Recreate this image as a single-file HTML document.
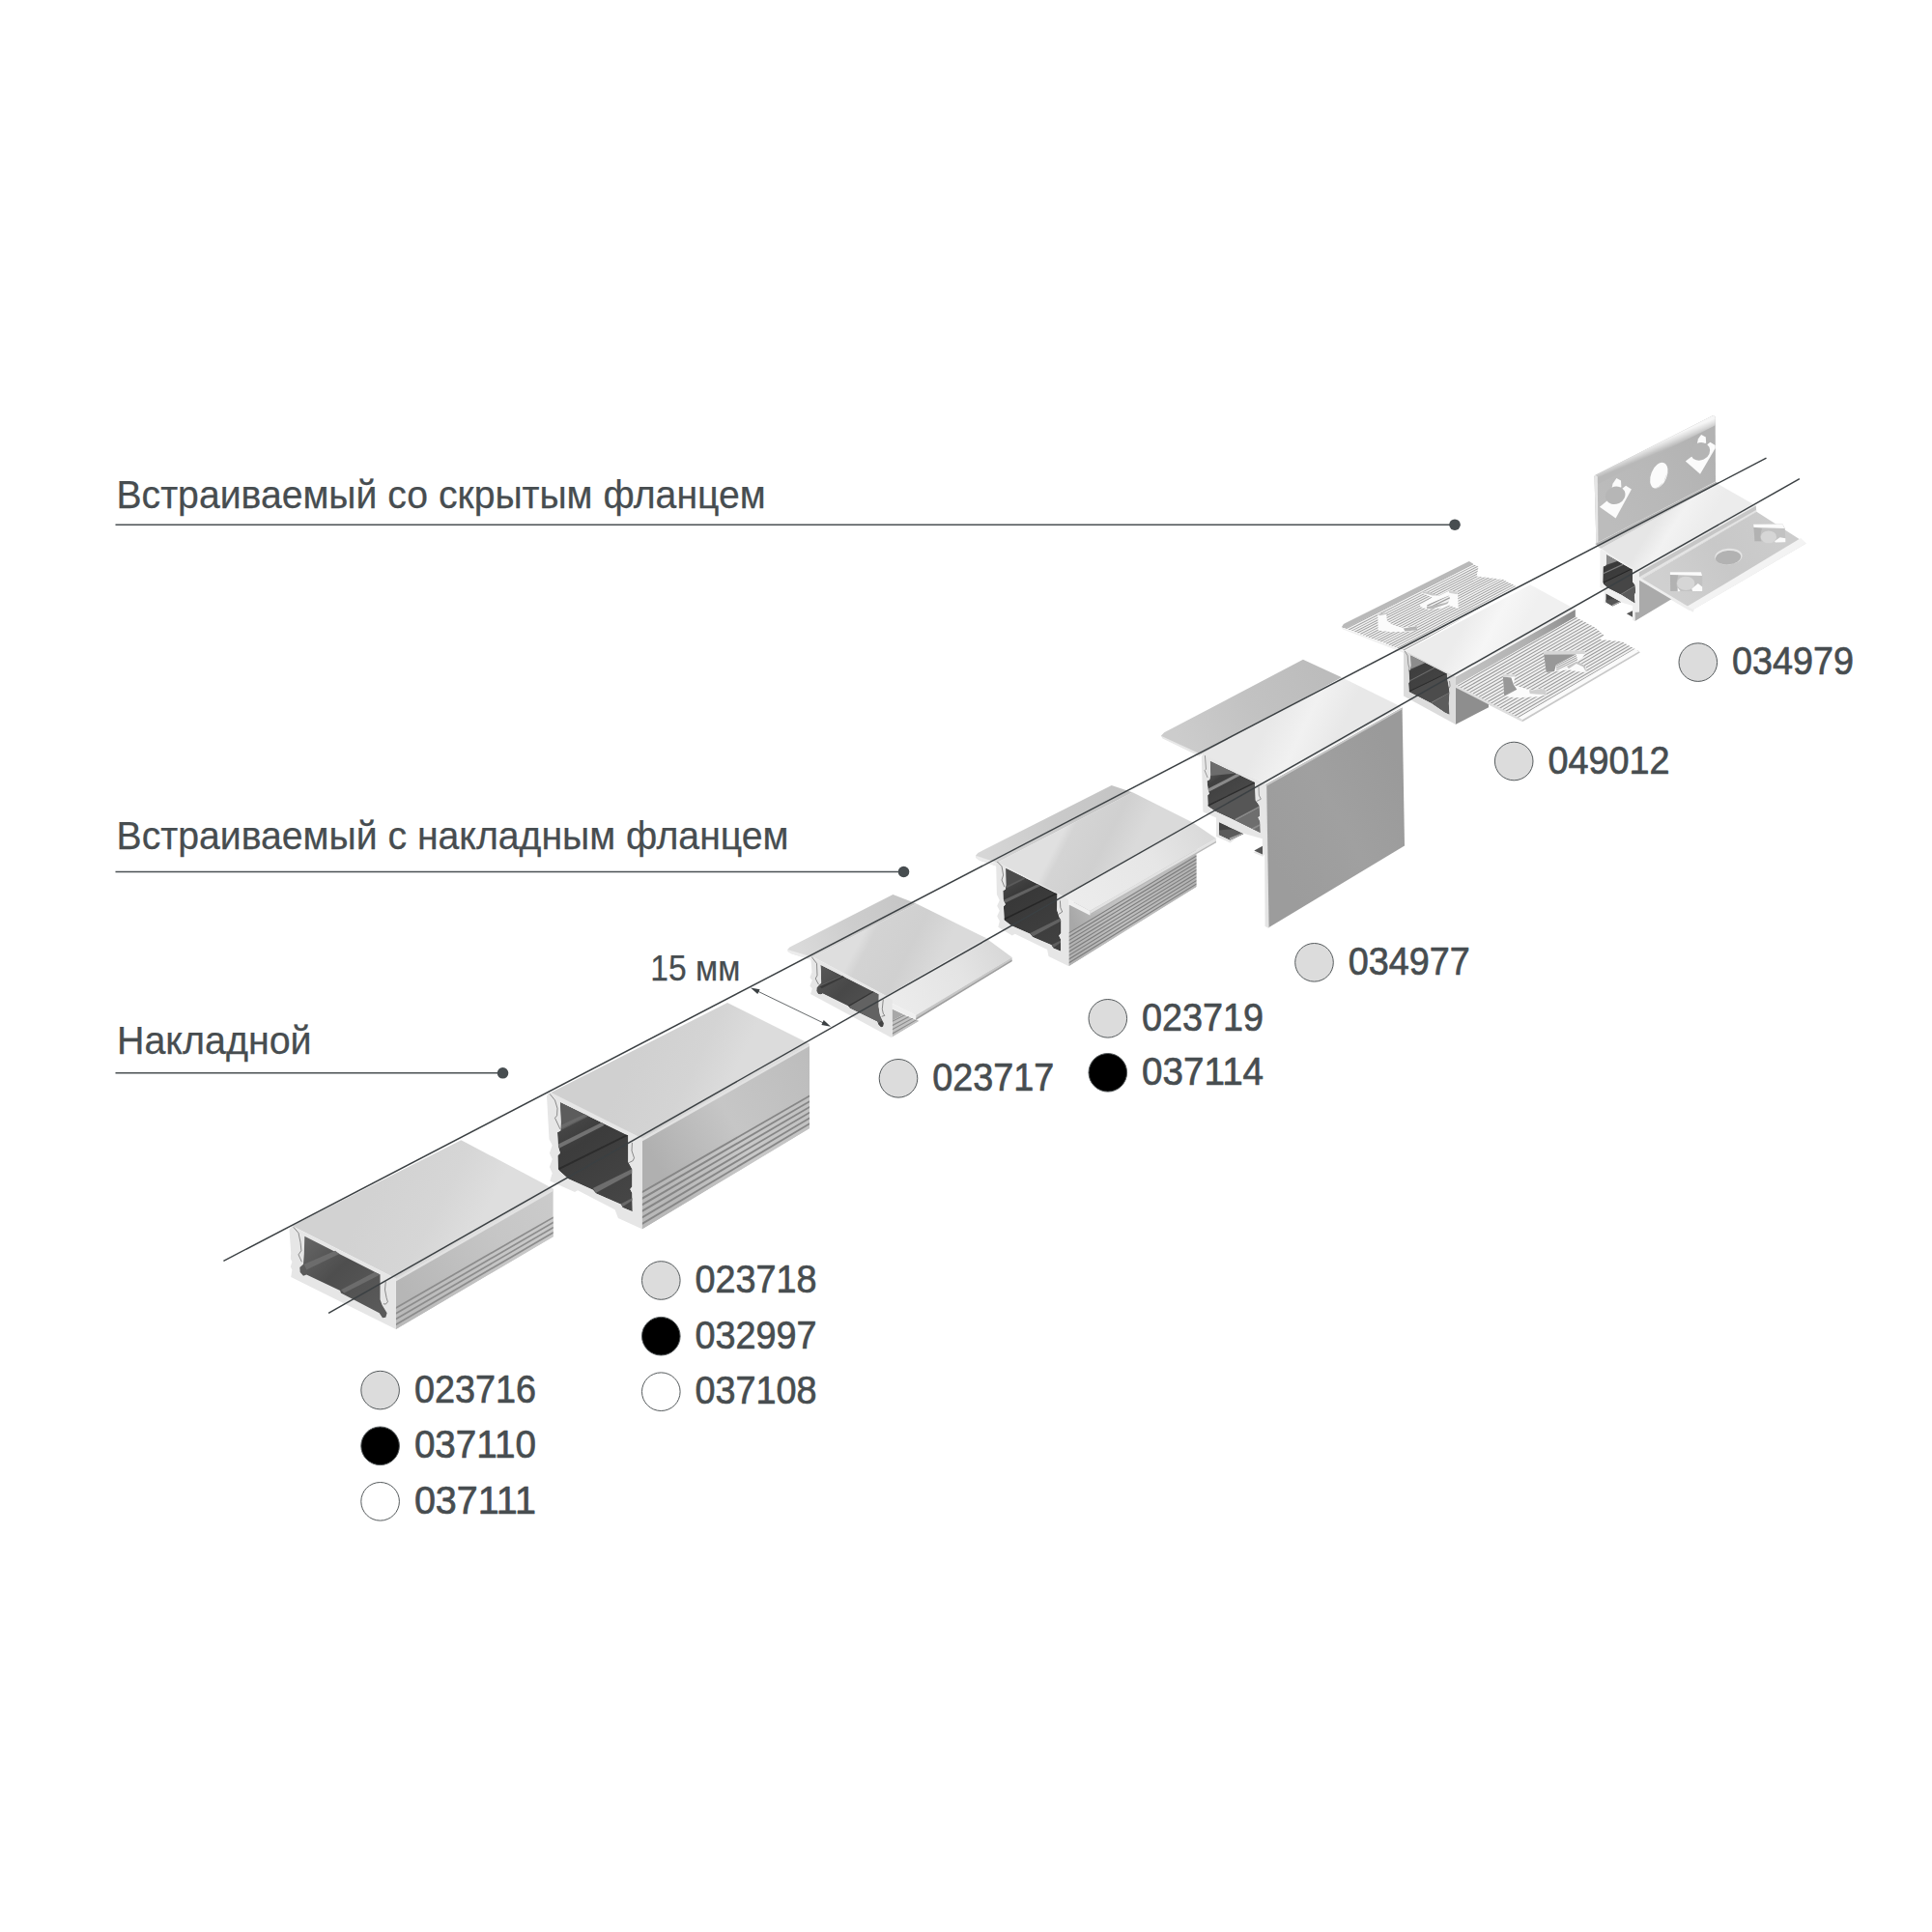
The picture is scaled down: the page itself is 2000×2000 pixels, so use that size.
<!DOCTYPE html>
<html lang="ru"><head><meta charset="utf-8"><title>Профили</title>
<style>
html,body{margin:0;padding:0;background:#fff;}
body{width:2000px;height:2000px;overflow:hidden;font-family:"Liberation Sans",sans-serif;}
svg{display:block}
svg text{font-family:"Liberation Sans",sans-serif;fill:#474d50;stroke:#474d50;stroke-width:0.25px;stroke-linejoin:round;}
</style></head><body>
<svg width="2000" height="2000" viewBox="0 0 2000 2000">
<defs>
<linearGradient id="g1" gradientUnits="userSpaceOnUse" x1="389.9" y1="1224.6" x2="491.2" y2="1276.9"><stop offset="0" stop-color="#d2d2d2"/><stop offset="0.6" stop-color="#d6d6d6"/><stop offset="1" stop-color="#dedede"/></linearGradient>
<linearGradient id="g2" gradientUnits="userSpaceOnUse" x1="409.8" y1="1323.4" x2="572.6" y2="1230.4"><stop offset="0" stop-color="#b6b6b6"/><stop offset="0.6" stop-color="#c6c6c6"/><stop offset="1" stop-color="#cbcbcb"/></linearGradient>
<linearGradient id="g3" gradientUnits="userSpaceOnUse" x1="409.8" y1="1323.4" x2="572.6" y2="1230.4"><stop offset="0" stop-color="#bababa"/><stop offset="0.6" stop-color="#c6c6c6"/><stop offset="1" stop-color="#cacaca"/></linearGradient>
<linearGradient id="g4" gradientUnits="userSpaceOnUse" x1="315.3" y1="1279.8" x2="393.5" y2="1355.9"><stop offset="0" stop-color="#666666"/><stop offset="0.45" stop-color="#4e4e4e"/><stop offset="1" stop-color="#5a5a5a"/></linearGradient>
<linearGradient id="g5" gradientUnits="userSpaceOnUse" x1="659.9" y1="1085.4" x2="751.4" y2="1129.5"><stop offset="0" stop-color="#d0d0d0"/><stop offset="0.6" stop-color="#d4d4d4"/><stop offset="1" stop-color="#dcdcdc"/></linearGradient>
<linearGradient id="g6" gradientUnits="userSpaceOnUse" x1="664.7" y1="1178.4" x2="838.0" y2="1080.5"><stop offset="0" stop-color="#b0b0b0"/><stop offset="0.45" stop-color="#c6c6c6"/><stop offset="1" stop-color="#bcbcbc"/></linearGradient>
<linearGradient id="g7" gradientUnits="userSpaceOnUse" x1="664.7" y1="1178.4" x2="838.0" y2="1080.5"><stop offset="0" stop-color="#b8b8b8"/><stop offset="0.45" stop-color="#c8c8c8"/><stop offset="1" stop-color="#bebebe"/></linearGradient>
<linearGradient id="g8" gradientUnits="userSpaceOnUse" x1="579.9" y1="1141.1" x2="654.4" y2="1252.5"><stop offset="0" stop-color="#505050"/><stop offset="0.35" stop-color="#3c3c3c"/><stop offset="1" stop-color="#474747"/></linearGradient>
<clipPath id="c1"><polygon points="579.9,1141.1 650.3,1175.5 650.3,1202.8 654.4,1210.3 654.4,1228.5 652.3,1231.0 654.4,1235.1 654.8,1254.2 644.5,1250.0 642.8,1246.7 617.1,1235.5 613.8,1231.8 588.2,1220.2 579.0,1211.9 577.8,1210.3 577.4,1196.2 579.9,1193.7 577.8,1186.3 577.0,1172.2 580.3,1170.5 580.7,1161.4"/></clipPath>
<linearGradient id="g9" gradientUnits="userSpaceOnUse" x1="827.9" y1="985.5" x2="936.9" y2="931.0"><stop offset="0" stop-color="#dadada"/><stop offset="0.5" stop-color="#cdcdcd"/><stop offset="1" stop-color="#c6c6c6"/></linearGradient>
<linearGradient id="g10" gradientUnits="userSpaceOnUse" x1="895.4" y1="963.1" x2="969.1" y2="1001.0"><stop offset="0" stop-color="#dedede"/><stop offset="0.12" stop-color="#d3d3d3"/><stop offset="0.6" stop-color="#d0d0d0"/><stop offset="1" stop-color="#dadada"/></linearGradient>
<linearGradient id="g11" gradientUnits="userSpaceOnUse" x1="925.8" y1="1041.4" x2="1037.6" y2="982.7"><stop offset="0" stop-color="#ececec"/><stop offset="0.6" stop-color="#e4e4e4"/><stop offset="1" stop-color="#d8d8d8"/></linearGradient>
<clipPath id="c2"><polygon points="923.4,1056.5 935.7,1050.2 948.1,1055.5 952.0,1056.7 923.4,1073.8"/></clipPath>
<linearGradient id="g12" gradientUnits="userSpaceOnUse" x1="849.3" y1="998.7" x2="912.2" y2="1062.6"><stop offset="0" stop-color="#585858"/><stop offset="0.4" stop-color="#484848"/><stop offset="1" stop-color="#585858"/></linearGradient>
<clipPath id="c3"><polygon points="849.3,998.7 909.6,1029.3 909.4,1041.9 910.7,1050.2 912.7,1054.9 914.8,1059.0 914.3,1062.6 912.2,1063.4 909.6,1061.1 908.1,1057.5 879.6,1043.5 878.1,1041.4 851.7,1028.5 849.6,1029.5 847.0,1029.0 845.2,1025.9 845.5,1022.3 847.5,1020.2 850.1,1017.6 849.9,1005.7"/></clipPath>
<linearGradient id="g13" gradientUnits="userSpaceOnUse" x1="1021.7" y1="888.4" x2="1160.9" y2="815.9"><stop offset="0" stop-color="#d6d6d6"/><stop offset="0.5" stop-color="#cacaca"/><stop offset="1" stop-color="#c4c4c4"/></linearGradient>
<linearGradient id="g14" gradientUnits="userSpaceOnUse" x1="1102.5" y1="856.5" x2="1168.1" y2="889.9"><stop offset="0" stop-color="#e0e0e0"/><stop offset="0.12" stop-color="#d4d4d4"/><stop offset="0.6" stop-color="#d0d0d0"/><stop offset="1" stop-color="#dadada"/></linearGradient>
<linearGradient id="g15" gradientUnits="userSpaceOnUse" x1="1106.5" y1="944.9" x2="1238.4" y2="887.0"><stop offset="0" stop-color="#a8a8a8"/><stop offset="0.25" stop-color="#c0c0c0"/><stop offset="0.6" stop-color="#c4c4c4"/><stop offset="1" stop-color="#b0b0b0"/></linearGradient>
<linearGradient id="g16" gradientUnits="userSpaceOnUse" x1="1106.5" y1="973.9" x2="1238.4" y2="901.4"><stop offset="0" stop-color="#b2b2b2"/><stop offset="0.4" stop-color="#c0c0c0"/><stop offset="1" stop-color="#b2b2b2"/></linearGradient>
<linearGradient id="g17" gradientUnits="userSpaceOnUse" x1="1115.9" y1="934.8" x2="1246.4" y2="860.9"><stop offset="0" stop-color="#ececec"/><stop offset="0.6" stop-color="#e6e6e6"/><stop offset="1" stop-color="#dadada"/></linearGradient>
<linearGradient id="g18" gradientUnits="userSpaceOnUse" x1="1041.2" y1="898.8" x2="1098.1" y2="984.8"><stop offset="0" stop-color="#505050"/><stop offset="0.3" stop-color="#383838"/><stop offset="1" stop-color="#424242"/></linearGradient>
<clipPath id="c4"><polygon points="1041.2,898.8 1094.5,925.3 1094.2,942.1 1096.2,948.6 1098.4,953.1 1098.4,966.0 1096.2,968.6 1098.1,972.5 1098.1,984.8 1090.3,981.6 1088.4,978.3 1069.0,969.9 1066.4,966.7 1047.0,958.3 1039.6,952.4 1038.9,938.2 1040.8,936.3 1038.6,931.1 1038.3,922.0 1040.8,920.8 1041.5,916.2"/></clipPath>
<linearGradient id="g19" gradientUnits="userSpaceOnUse" x1="1222.1" y1="769.5" x2="1366.5" y2="690.9"><stop offset="0" stop-color="#cccccc"/><stop offset="0.5" stop-color="#c2c2c2"/><stop offset="1" stop-color="#bcbcbc"/></linearGradient>
<linearGradient id="g20" gradientUnits="userSpaceOnUse" x1="1316.4" y1="741.0" x2="1380.2" y2="771.5"><stop offset="0" stop-color="#e8e8e8"/><stop offset="0.5" stop-color="#f1f1f1"/><stop offset="1" stop-color="#e8e8e8"/></linearGradient>
<linearGradient id="g21" gradientUnits="userSpaceOnUse" x1="1310.4" y1="878.6" x2="1453.2" y2="798.4"><stop offset="0" stop-color="#9c9c9c"/><stop offset="0.5" stop-color="#a0a0a0"/><stop offset="1" stop-color="#9a9a9a"/></linearGradient>
<linearGradient id="g22" gradientUnits="userSpaceOnUse" x1="1252.8" y1="787.8" x2="1304.7" y2="862.2"><stop offset="0" stop-color="#6e6e6e"/><stop offset="0.22" stop-color="#404040"/><stop offset="0.5" stop-color="#484848"/><stop offset="0.75" stop-color="#5c5c5c"/><stop offset="1" stop-color="#767676"/></linearGradient>
<clipPath id="c5"><polygon points="1252.8,787.8 1298.9,809.7 1299.6,828.5 1303.6,833.9 1304.0,844.7 1302.0,846.0 1304.3,850.8 1304.7,862.2 1278.7,849.4 1258.2,839.7 1250.5,834.6 1250.1,823.2 1251.8,821.8 1250.5,817.1 1249.5,808.4 1252.2,807.0 1253.2,802.3"/></clipPath>
<clipPath id="c6"><polygon points="1261.9,851.1 1287.5,863.2 1273.4,869.7 1261.9,864.2"/></clipPath>
<clipPath id="c7"><polygon points="1388.8,649.2 1392.3,644.8 1520.8,582.0 1530.5,586.7 1528.7,596.4 1556.0,599.9 1571.0,607.8 1453.9,673.8"/></clipPath>
<clipPath id="c8"><polygon points="1476.9,625.9 1500.2,616.6 1501.1,620.3 1498.3,624.0 1482.5,630.1 1476.9,629.6"/></clipPath>
<linearGradient id="g23" gradientUnits="userSpaceOnUse" x1="1519.5" y1="639.5" x2="1568.3" y2="665.7"><stop offset="0" stop-color="#ececec"/><stop offset="0.5" stop-color="#f6f6f6"/><stop offset="1" stop-color="#f0f0f0"/></linearGradient>
<linearGradient id="g24" gradientUnits="userSpaceOnUse" x1="1506.7" y1="705.5" x2="1630.8" y2="635.1"><stop offset="0" stop-color="#c4c4c4"/><stop offset="0.6" stop-color="#b0b0b0"/><stop offset="1" stop-color="#8c8c8c"/></linearGradient>
<clipPath id="c9"><polygon points="1506.7,709.9 1630.8,638.6 1651.9,650.1 1660.7,658.0 1656.3,661.9 1679.2,664.2 1696.8,674.2 1575.4,745.5"/></clipPath>
<clipPath id="c10"><polygon points="1610.8,688.4 1631.8,677.7 1633.2,683.8 1623.9,690.8 1610.8,695.0"/></clipPath>
<linearGradient id="g25" gradientUnits="userSpaceOnUse" x1="1460.1" y1="678.2" x2="1500.5" y2="739.7"><stop offset="0" stop-color="#7a7a7a"/><stop offset="0.2" stop-color="#3e3e3e"/><stop offset="0.55" stop-color="#444444"/><stop offset="1" stop-color="#626262"/></linearGradient>
<clipPath id="c11"><polygon points="1460.1,678.2 1497.7,697.3 1498.0,702.7 1499.7,711.3 1500.5,717.5 1499.7,728.3 1500.5,739.7 1495.7,737.4 1481.4,727.8 1458.7,716.1 1458.1,707.3 1459.2,705.6 1458.4,694.2 1460.1,693.0 1460.7,688.5"/></clipPath>
<linearGradient id="g26" gradientUnits="userSpaceOnUse" x1="1663.3" y1="536.5" x2="1772.0" y2="466.6"><stop offset="0" stop-color="#bcbcbc"/><stop offset="0.5" stop-color="#b8b8b8"/><stop offset="1" stop-color="#b2b2b2"/></linearGradient>
<linearGradient id="g27" gradientUnits="userSpaceOnUse" x1="1709.9" y1="460.4" x2="1713.8" y2="469.7"><stop offset="0" stop-color="#f6f6f6"/><stop offset="0.45" stop-color="#dcdcdc"/><stop offset="1" stop-color="#b8b8b8"/></linearGradient>
<linearGradient id="g28" gradientUnits="userSpaceOnUse" x1="1717.5" y1="534.1" x2="1756.2" y2="558.6"><stop offset="0" stop-color="#e6e6e6"/><stop offset="0.4" stop-color="#f2f2f2"/><stop offset="1" stop-color="#ececec"/></linearGradient>
<linearGradient id="g29" gradientUnits="userSpaceOnUse" x1="1728.0" y1="613.2" x2="1839.8" y2="548.0"><stop offset="0" stop-color="#d0d0d0"/><stop offset="0.5" stop-color="#c8c8c8"/><stop offset="1" stop-color="#cccccc"/></linearGradient>
<linearGradient id="g30" gradientUnits="userSpaceOnUse" x1="1662.9" y1="573.9" x2="1692.6" y2="624.4"><stop offset="0" stop-color="#7c7c7c"/><stop offset="0.2" stop-color="#383838"/><stop offset="0.55" stop-color="#404040"/><stop offset="1" stop-color="#5c5c5c"/></linearGradient>
<clipPath id="c12"><polygon points="1662.9,573.9 1689.8,589.4 1690.0,602.6 1692.6,605.7 1693.1,613.0 1691.8,616.1 1692.6,624.4 1678.1,615.6 1664.7,608.8 1660.0,604.7 1659.2,603.1 1659.5,586.6 1662.1,585.5 1662.9,584.0"/></clipPath>
<clipPath id="c13"><polygon points="1662.3,614.3 1678.1,623.3 1669.3,627.6 1662.3,623.4"/></clipPath>
</defs>
<rect width="2000" height="2000" fill="#fff"/>
<g id="profiles">
<polygon points="302.4,1269.0 477.4,1180.2 572.6,1230.4 409.8,1323.4" fill="url(#g1)" />
<polygon points="409.8,1323.4 572.6,1230.4 572.6,1280.2 409.8,1376.0" fill="url(#g2)" />
<polygon points="409.8,1323.4 572.6,1230.4 572.6,1233.0 409.8,1326.6" fill="#e2e2e2" />
<polygon points="409.8,1352.9 572.6,1259.4 572.6,1280.2 409.8,1376.0" fill="url(#g3)" />
<polygon points="409.8,1352.9 572.6,1259.4 572.6,1261.3 409.8,1355.0" fill="#8c8c8c" />
<polygon points="409.8,1358.7 572.6,1264.6 572.6,1266.5 409.8,1360.8" fill="#8c8c8c" />
<polygon points="409.8,1364.5 572.6,1269.8 572.6,1271.7 409.8,1366.5" fill="#8c8c8c" />
<polygon points="409.8,1370.2 572.6,1275.0 572.6,1276.9 409.8,1372.3" fill="#8c8c8c" />
<polygon points="299.5,1272.7 302.4,1269.2 409.8,1323.4 409.8,1376.0 301.2,1322.0 302.4,1314.5 300.8,1311.2 302.4,1306.3 300.8,1302.9 301.2,1297.1" fill="#e6e6e6" />
<polygon points="315.3,1279.8 393.5,1319.5 393.5,1345.2 395.6,1351.0 400.6,1359.3 399.3,1363.8 396.0,1364.2 392.7,1359.3 352.9,1338.6 352.1,1336.1 317.3,1319.5 314.0,1320.7 310.7,1317.0 310.3,1312.0 314.0,1308.7 314.8,1298.0" fill="url(#g4)" />
<polygon points="314.8,1308.7 347.1,1294.7 351.3,1298.0 317.3,1314.5" fill="#6c6c6c" />
<polygon points="352.9,1335.2 387.7,1317.0 393.5,1319.5 356.3,1338.6" fill="#6c6c6c" />
<path d="M303.7,1270.2 L309.0,1276.4 L311.1,1286.4 L311.9,1294.7 L309.0,1298.8 L312.4,1306.3" fill="none" stroke="#4a4a4a" stroke-width="0.6" stroke-linejoin="round"/>
<path d="M399.3,1326.5 L398.5,1335.2 L400.1,1343.5 L401.4,1347.7 L399.3,1350.1 L396.8,1349.7" fill="none" stroke="#4a4a4a" stroke-width="0.6" stroke-linejoin="round"/>
<polygon points="566.8,1132.7 753.0,1038.0 838.0,1080.5 664.7,1178.4" fill="url(#g5)" />
<polygon points="664.7,1178.4 838.0,1080.5 838.0,1168.0 664.7,1272.3" fill="url(#g6)" />
<polygon points="664.7,1178.4 838.0,1080.5 838.0,1083.1 664.7,1181.6" fill="#e2e2e2" />
<polygon points="664.7,1233.0 838.0,1133.5 838.0,1168.0 664.7,1272.3" fill="url(#g7)" />
<polygon points="664.7,1233.0 838.0,1133.5 838.0,1135.6 664.7,1235.3" fill="#868686" />
<polygon points="664.7,1239.5 838.0,1139.2 838.0,1141.3 664.7,1241.9" fill="#868686" />
<polygon points="664.7,1246.1 838.0,1145.0 838.0,1147.1 664.7,1248.4" fill="#868686" />
<polygon points="664.7,1252.6 838.0,1150.7 838.0,1152.8 664.7,1255.0" fill="#868686" />
<polygon points="664.7,1259.2 838.0,1156.5 838.0,1158.6 664.7,1261.6" fill="#868686" />
<polygon points="664.7,1265.7 838.0,1162.2 838.0,1164.3 664.7,1268.1" fill="#868686" />
<polygon points="566.0,1134.3 570.1,1130.8 664.7,1178.4 664.7,1272.3 639.9,1261.1 636.6,1252.2 598.1,1232.2 594.9,1234.1 569.3,1222.6 571.7,1214.5 568.9,1208.1 571.7,1200.1 568.9,1193.7 571.7,1185.6 568.5,1179.2" fill="#e6e6e6" />
<g clip-path="url(#c1)">
<polygon points="579.9,1141.1 650.3,1175.5 650.3,1202.8 654.4,1210.3 654.4,1228.5 652.3,1231.0 654.4,1235.1 654.8,1254.2 644.5,1250.0 642.8,1246.7 617.1,1235.5 613.8,1231.8 588.2,1220.2 579.0,1211.9 577.8,1210.3 577.4,1196.2 579.9,1193.7 577.8,1186.3 577.0,1172.2 580.3,1170.5 580.7,1161.4" fill="url(#g8)" />
<polygon points="579.9,1141.1 609.7,1155.6 581.5,1169.7" fill="#5c5c5c" />
<polygon points="580.7,1164.7 606.4,1152.7 608.0,1155.2 581.1,1168.4" fill="#6a6a6a" />
<polygon points="577.8,1184.6 623.8,1161.4 625.4,1165.1 578.6,1188.7" fill="#727272" />
<polygon points="578.6,1209.0 650.3,1173.4 650.3,1175.5 579.0,1211.1" fill="#2c2c2c" />
<polygon points="613.8,1230.1 654.4,1209.9 654.4,1214.4 617.1,1234.7" fill="#6e6e6e" />
<polygon points="642.8,1246.3 654.8,1240.1 654.8,1242.6 644.5,1249.2" fill="#6a6a6a" />
</g>
<path d="M569.1,1132.4 L574.5,1139.0 L577.0,1147.3 L576.6,1154.8 L574.5,1157.3 L579.9,1168.9" fill="none" stroke="#4a4a4a" stroke-width="0.6" stroke-linejoin="round"/>
<path d="M654.4,1182.9 L654.0,1191.2 L656.5,1198.7 L655.2,1201.6 L651.1,1203.6" fill="none" stroke="#4a4a4a" stroke-width="0.6" stroke-linejoin="round"/>
<polygon points="815.4,982.7 817.5,980.6 924.4,926.1 948.8,935.4 841.9,990.8 840.5,993.8 818.9,987.1 815.7,984.8" fill="url(#g9)" />
<polygon points="815.4,982.9 841.9,991.1 841.6,994.3 818.9,987.3 815.7,985.2" fill="#ececec" />
<polygon points="841.9,990.8 948.8,935.4 1020.8,971.1 917.4,1030.9" fill="url(#g10)" />
<polygon points="917.4,1031.0 1020.8,971.2 1047.6,991.1 948.1,1051.0 923.4,1038.7" fill="url(#g11)" />
<polygon points="948.1,1051.0 1047.6,991.1 1047.6,994.7 948.1,1055.5" fill="#c6c6c6" />
<polygon points="948.1,1054.1 1047.6,993.6 1047.6,995.2 948.1,1055.9" fill="#9e9e9e" />
<g clip-path="url(#c2)">
<polygon points="923.4,1056.5 935.7,1050.2 948.1,1055.5 952.0,1056.7 923.4,1073.8" fill="#c2c2c2" />
<polygon points="923.4,1056.7 952.0,1042.5 952.0,1043.6 923.4,1058.1" fill="#8c8c8c" />
<polygon points="923.4,1061.0 952.0,1046.0 952.0,1047.2 923.4,1062.4" fill="#8c8c8c" />
<polygon points="923.4,1065.3 952.0,1049.6 952.0,1050.7 923.4,1066.6" fill="#8c8c8c" />
<polygon points="923.4,1069.5 952.0,1053.2 952.0,1054.3 923.4,1070.9" fill="#8c8c8c" />
</g>
<polygon points="923.4,1044.4 935.7,1050.3 923.4,1056.7" fill="#a8a8a8" />
<polygon points="923.4,1038.7 948.1,1051.0 948.1,1055.5 923.4,1044.2" fill="#efefef" />
<polygon points="839.5,993.4 841.9,990.8 917.4,1030.9 923.7,1034.8 923.7,1073.8 921.9,1073.8 839.1,1029.1 840.8,1023.2 838.4,1020.4 840.8,1014.8 838.4,1012.0 840.5,1006.4" fill="#e6e6e6" />
<g clip-path="url(#c3)">
<polygon points="849.3,998.7 909.6,1029.3 909.4,1041.9 910.7,1050.2 912.7,1054.9 914.8,1059.0 914.3,1062.6 912.2,1063.4 909.6,1061.1 908.1,1057.5 879.6,1043.5 878.1,1041.4 851.7,1028.5 849.6,1029.5 847.0,1029.0 845.2,1025.9 845.5,1022.3 847.5,1020.2 850.1,1017.6 849.9,1005.7" fill="url(#g12)" />
<polygon points="847.5,1020.2 872.4,1009.3 875.0,1010.9 850.6,1023.3" fill="#3a3a3a" />
<polygon points="847.5,1020.2 872.4,1009.3 873.4,1009.9 848.6,1021.2" fill="#5e5e5e" />
<polygon points="878.6,1041.9 904.5,1026.4 909.6,1029.3 909.4,1041.9 910.7,1050.2 914.8,1059.0 914.3,1062.6 909.6,1061.1 908.1,1057.5 879.6,1043.5" fill="#626262" />
<polygon points="878.1,1040.9 903.9,1025.9 905.0,1026.7 878.8,1041.9" fill="#343434" />
<polygon points="909.1,1059.5 912.7,1056.4 914.8,1059.5 914.0,1062.6 912.0,1063.3" fill="#444444" />
</g>
<path d="M840.3,990.7 L845.5,997.4 L846.0,1009.8 L844.2,1013.0 L847.5,1019.2" fill="none" stroke="#4a4a4a" stroke-width="0.6" stroke-linejoin="round"/>
<path d="M914.3,1034.7 L913.3,1044.5 L914.3,1049.2 L915.9,1051.3 L912.7,1052.3" fill="none" stroke="#4a4a4a" stroke-width="0.6" stroke-linejoin="round"/>
<polygon points="1010.1,885.5 1012.3,882.9 1150.7,813.0 1172.5,820.3 1032.6,892.8 1032.2,896.8 1013.8,890.6 1010.4,888.1" fill="url(#g13)" />
<polygon points="1010.1,885.8 1032.6,893.0 1032.2,896.8 1013.8,890.6 1010.4,888.1" fill="#ececec" />
<polygon points="1032.6,892.8 1172.5,820.3 1234.8,851.4 1101.4,928.3" fill="url(#g14)" />
<polygon points="1106.5,937.0 1238.4,860.9 1238.4,918.1 1106.5,1000.0" fill="url(#g15)" />
<polygon points="1106.5,965.2 1238.4,885.5 1238.4,918.1 1106.5,1000.0" fill="url(#g16)" />
<polygon points="1106.5,965.2 1238.4,885.5 1238.4,886.8 1106.5,966.6" fill="#7e7e7e" />
<polygon points="1106.5,969.1 1238.4,889.1 1238.4,890.4 1106.5,970.5" fill="#7e7e7e" />
<polygon points="1106.5,972.9 1238.4,892.8 1238.4,894.1 1106.5,974.3" fill="#7e7e7e" />
<polygon points="1106.5,976.8 1238.4,896.4 1238.4,897.7 1106.5,978.2" fill="#7e7e7e" />
<polygon points="1106.5,980.7 1238.4,900.0 1238.4,901.3 1106.5,982.1" fill="#7e7e7e" />
<polygon points="1106.5,984.5 1238.4,903.6 1238.4,904.9 1106.5,985.9" fill="#7e7e7e" />
<polygon points="1106.5,988.4 1238.4,907.2 1238.4,908.6 1106.5,989.8" fill="#7e7e7e" />
<polygon points="1106.5,992.3 1238.4,910.9 1238.4,912.2 1106.5,993.7" fill="#7e7e7e" />
<polygon points="1106.5,996.1 1238.4,914.5 1238.4,915.8 1106.5,997.5" fill="#7e7e7e" />
<polygon points="1101.4,928.4 1234.8,851.6 1259.0,868.1 1128.3,943.0" fill="url(#g17)" />
<polygon points="1128.3,943.0 1259.0,868.1 1259.0,872.0 1128.3,947.4" fill="#e2e2e2" />
<polygon points="1128.3,946.1 1259.0,870.7 1259.0,872.3 1128.3,947.7" fill="#b8b8b8" />
<polygon points="1106.5,931.2 1128.3,943.0 1128.3,947.4 1106.5,936.5" fill="#f0f0f0" />
<polygon points="1031.2,894.9 1032.6,892.8 1101.4,928.3 1106.5,931.2 1106.5,1000.3 1085.5,989.9 1084.1,982.9 1050.7,966.7 1047.8,968.4 1033.3,959.7 1034.8,953.6 1032.2,948.6 1034.8,942.8 1032.2,937.7 1034.8,931.9 1031.9,926.1" fill="#e6e6e6" />
<g clip-path="url(#c4)">
<polygon points="1041.2,898.8 1094.5,925.3 1094.2,942.1 1096.2,948.6 1098.4,953.1 1098.4,966.0 1096.2,968.6 1098.1,972.5 1098.1,984.8 1090.3,981.6 1088.4,978.3 1069.0,969.9 1066.4,966.7 1047.0,958.3 1039.6,952.4 1038.9,938.2 1040.8,936.3 1038.6,931.1 1038.3,922.0 1040.8,920.8 1041.5,916.2" fill="url(#g18)" />
<polygon points="1041.2,898.8 1061.2,908.8 1041.7,918.8" fill="#4c4c4c" />
<polygon points="1041.0,917.8 1059.9,908.5 1061.2,909.8 1041.3,919.8" fill="#5a5a5a" />
<polygon points="1038.9,931.7 1074.8,914.9 1076.7,917.2 1039.6,935.3" fill="#626262" />
<polygon points="1039.4,950.8 1094.5,923.7 1094.6,925.3 1039.6,952.6" fill="#262626" />
<polygon points="1066.4,966.0 1098.4,949.9 1098.4,953.4 1069.0,969.6" fill="#626262" />
<polygon points="1088.7,978.0 1098.1,973.5 1098.1,975.7 1090.3,981.2" fill="#5e5e5e" />
</g>
<path d="M1032.4,892.0 L1037.0,896.8 L1038.6,905.9 L1037.0,911.0 L1039.9,918.2" fill="none" stroke="#4a4a4a" stroke-width="0.6" stroke-linejoin="round"/>
<path d="M1097.4,932.4 L1097.8,939.5 L1099.7,944.0 L1095.5,946.6" fill="none" stroke="#4a4a4a" stroke-width="0.6" stroke-linejoin="round"/>
<polygon points="1202.0,761.5 1205.2,758.3 1348.9,682.8 1389.0,701.3 1243.8,780.7 1241.4,782.3 1203.6,763.9" fill="url(#g19)" />
<polygon points="1202.0,761.8 1243.8,781.1 1241.7,783.0 1203.6,764.4" fill="#e8e8e8" />
<polygon points="1243.8,780.7 1389.0,701.3 1450.8,731.8 1309.6,811.2" fill="url(#g20)" />
<polygon points="1310.4,812.0 1451.6,732.6 1454.0,875.4 1312.8,960.5" fill="url(#g21)" />
<polygon points="1308.8,811.6 1311.2,812.2 1313.6,960.8 1309.6,958.9" fill="#e4e4e4" />
<polygon points="1310.4,812.0 1451.6,732.6 1451.6,734.2 1310.7,814.1" fill="#c8c8c8" />
<polygon points="1243.8,783.1 1245.4,780.7 1309.6,811.2 1309.6,883.4 1307.2,886.7 1297.5,882.6 1306.8,877.4 1306.8,868.2 1286.3,862.6 1273.5,872.5 1261.4,867.1 1259.0,866.1 1259.0,846.5 1245.4,840.4" fill="#e6e6e6" />
<g clip-path="url(#c5)">
<polygon points="1252.8,787.8 1298.9,809.7 1299.6,828.5 1303.6,833.9 1304.0,844.7 1302.0,846.0 1304.3,850.8 1304.7,862.2 1278.7,849.4 1258.2,839.7 1250.5,834.6 1250.1,823.2 1251.8,821.8 1250.5,817.1 1249.5,808.4 1252.2,807.0 1253.2,802.3" fill="url(#g22)" />
<polygon points="1252.8,787.8 1279.4,800.6 1253.8,803.0" fill="#6c6c6c" />
<polygon points="1250.5,816.4 1281.4,800.6 1284.8,802.3 1250.8,820.1" fill="#8a8a8a" />
<polygon points="1250.3,833.3 1298.9,809.4 1299.1,811.0 1250.6,834.9" fill="#2e2e2e" />
<polygon points="1250.6,834.9 1299.1,811.0 1299.6,828.5 1303.6,833.9 1278.1,848.7 1258.2,839.7" fill="#565656" />
<polygon points="1278.1,848.1 1303.6,834.6 1303.8,836.3 1279.4,849.4" fill="#8a8a8a" />
<polygon points="1279.4,849.4 1303.8,836.3 1304.3,850.8 1304.7,862.2" fill="#6e6e6e" />
<polygon points="1295.6,857.5 1304.3,853.1 1304.4,854.8 1297.6,858.5" fill="#8c8c8c" />
</g>
<g clip-path="url(#c6)">
<polygon points="1261.9,851.1 1287.5,863.2 1273.4,869.7 1261.9,864.2" fill="#424242" />
<polygon points="1261.9,859.5 1276.7,858.2 1287.5,863.2 1273.4,869.7 1261.9,864.2" fill="#5a5a5a" />
<polygon points="1272.7,867.6 1286.1,862.2 1287.6,863.2 1273.4,869.9" fill="#a0a0a0" />
</g>
<polygon points="1298.3,880.4 1307.0,875.7 1307.0,884.4" fill="#565656" />
<path d="M1247.4,782.1 L1248.5,796.2 L1247.1,797.6 L1250.1,805.0" fill="none" stroke="#4a4a4a" stroke-width="0.5" stroke-linejoin="round"/>
<path d="M1303.0,814.4 L1303.3,823.2 L1305.3,827.2 L1300.6,829.6" fill="none" stroke="#4a4a4a" stroke-width="0.5" stroke-linejoin="round"/>
<g clip-path="url(#c7)">
<polygon points="1388.8,649.2 1392.3,644.8 1520.8,582.0 1530.5,586.7 1528.7,596.4 1556.0,599.9 1571.0,607.8 1453.9,673.8" fill="#f2f2f2" />
<polygon points="1389.7,649.5 1535.6,575.3 1536.5,575.8 1390.8,650.0" fill="#9c9c9c" />
<polygon points="1392.7,650.7 1538.0,576.6 1538.9,577.1 1393.8,651.1" fill="#9c9c9c" />
<polygon points="1395.6,651.8 1540.4,577.9 1541.3,578.3 1396.8,652.2" fill="#9c9c9c" />
<polygon points="1398.6,652.9 1542.8,579.1 1543.7,579.6 1399.7,653.3" fill="#9c9c9c" />
<polygon points="1401.6,654.0 1545.2,580.4 1546.1,580.9 1402.7,654.5" fill="#9c9c9c" />
<polygon points="1404.5,655.1 1547.6,581.7 1548.5,582.2 1405.6,655.6" fill="#9c9c9c" />
<polygon points="1407.5,656.3 1550.0,583.0 1550.9,583.4 1408.6,656.7" fill="#9c9c9c" />
<polygon points="1410.4,657.4 1552.4,584.2 1553.3,584.7 1411.6,657.8" fill="#9c9c9c" />
<polygon points="1413.4,658.5 1554.8,585.5 1555.7,586.0 1414.5,658.9" fill="#9c9c9c" />
<polygon points="1416.4,659.6 1557.2,586.8 1558.1,587.3 1417.5,660.0" fill="#9c9c9c" />
<polygon points="1419.3,660.7 1559.6,588.0 1560.5,588.5 1420.4,661.2" fill="#9c9c9c" />
<polygon points="1422.3,661.9 1562.0,589.3 1562.9,589.8 1423.4,662.3" fill="#9c9c9c" />
<polygon points="1425.2,663.0 1564.4,590.6 1565.3,591.1 1426.4,663.4" fill="#9c9c9c" />
<polygon points="1428.2,664.1 1566.8,591.9 1567.7,592.3 1429.3,664.5" fill="#9c9c9c" />
<polygon points="1431.2,665.2 1569.2,593.1 1570.1,593.6 1432.3,665.6" fill="#9c9c9c" />
<polygon points="1434.1,666.3 1571.6,594.4 1572.5,594.9 1435.2,666.8" fill="#9c9c9c" />
<polygon points="1437.1,667.5 1574.0,595.7 1574.9,596.2 1438.2,667.9" fill="#9c9c9c" />
<polygon points="1440.0,668.6 1576.4,596.9 1577.3,597.4 1441.2,669.0" fill="#9c9c9c" />
<polygon points="1443.0,669.7 1578.8,598.2 1579.7,598.7 1444.1,670.1" fill="#9c9c9c" />
<polygon points="1446.0,670.8 1581.2,599.5 1582.1,600.0 1447.1,671.2" fill="#9c9c9c" />
<polygon points="1448.9,671.9 1583.6,600.8 1584.5,601.2 1450.0,672.4" fill="#9c9c9c" />
<polygon points="1451.9,673.1 1586.0,602.0 1586.9,602.5 1453.0,673.5" fill="#9c9c9c" />
</g>
<polygon points="1388.8,649.2 1390.9,646.0 1520.8,580.9 1525.2,583.7 1393.2,650.6" fill="#b9b9b9" />
<polygon points="1388.8,649.5 1453.9,674.2 1453.9,676.3 1389.7,651.3" fill="#efefef" />
<polygon points="1426.3,635.7 1435.0,634.3 1435.9,642.7 1440.6,645.9 1450.8,649.7 1466.6,647.8 1467.1,652.0 1459.2,653.7 1439.6,654.3 1426.6,652.5" fill="#fbfbfb" />
<polygon points="1426.3,635.7 1435.0,634.3 1437.3,635.2 1428.4,637.3" fill="#c4c4c4" />
<polygon points="1452.7,650.6 1466.6,648.1 1467.1,652.2 1454.5,653.6" fill="#b4b4b4" />
<polygon points="1470.8,613.0 1477.4,612.4 1489.0,617.1 1500.2,611.5 1509.0,612.4 1509.7,630.1 1500.2,626.4 1492.7,629.6 1478.8,631.0 1470.8,628.2 1469.9,625.9 1473.2,624.5 1476.9,622.2 1482.5,618.4" fill="#fbfbfb" />
<polygon points="1470.8,613.0 1477.4,612.4 1489.0,616.4 1482.5,616.6" fill="#c8c8c8" />
<polygon points="1499.7,611.5 1509.0,612.4 1508.6,615.2 1500.2,613.8" fill="#d2d2d2" />
<g clip-path="url(#c8)">
<polygon points="1476.9,625.9 1500.2,616.6 1501.1,620.3 1498.3,624.0 1482.5,630.1 1476.9,629.6" fill="#f2f2f2" />
<polygon points="1477.2,626.6 1500.5,615.3 1500.9,616.4 1477.6,627.7" fill="#9c9c9c" />
<polygon points="1478.1,629.2 1501.4,617.8 1501.8,618.9 1478.5,630.3" fill="#9c9c9c" />
</g>
<polygon points="1476.9,628.2 1496.5,624.0 1500.2,622.2 1498.3,625.0 1482.5,630.4 1476.9,630.1" fill="#b8b8b8" />
<polygon points="1454.8,673.8 1584.2,605.2 1630.8,630.7 1505.8,700.6" fill="url(#g23)" />
<polygon points="1506.4,701.1 1630.8,631.1 1630.8,639.0 1506.7,710.3" fill="url(#g24)" />
<g clip-path="url(#c9)">
<polygon points="1506.7,709.9 1630.8,638.6 1651.9,650.1 1660.7,658.0 1656.3,661.9 1679.2,664.2 1696.8,674.2 1575.4,745.5" fill="#f2f2f2" />
<polygon points="1507.7,710.4 1655.4,625.6 1656.4,626.3 1508.9,711.0" fill="#9c9c9c" />
<polygon points="1510.8,712.0 1658.1,627.4 1659.1,628.1 1512.0,712.6" fill="#9c9c9c" />
<polygon points="1513.9,713.6 1660.8,629.2 1661.9,629.8 1515.1,714.3" fill="#9c9c9c" />
<polygon points="1517.0,715.3 1663.6,630.9 1664.6,631.6 1518.2,715.9" fill="#9c9c9c" />
<polygon points="1520.2,716.9 1666.3,632.7 1667.3,633.3 1521.3,717.5" fill="#9c9c9c" />
<polygon points="1523.3,718.5 1669.0,634.4 1670.0,635.1 1524.5,719.1" fill="#9c9c9c" />
<polygon points="1526.4,720.1 1671.7,636.2 1672.7,636.9 1527.6,720.7" fill="#9c9c9c" />
<polygon points="1529.5,721.7 1674.4,638.0 1675.5,638.6 1530.7,722.3" fill="#9c9c9c" />
<polygon points="1532.6,723.3 1677.2,639.7 1678.2,640.4 1533.8,724.0" fill="#9c9c9c" />
<polygon points="1535.8,725.0 1679.9,641.5 1680.9,642.1 1536.9,725.6" fill="#9c9c9c" />
<polygon points="1538.9,726.6 1682.6,643.2 1683.6,643.9 1540.1,727.2" fill="#9c9c9c" />
<polygon points="1542.0,728.2 1685.3,645.0 1686.3,645.7 1543.2,728.8" fill="#9c9c9c" />
<polygon points="1545.1,729.8 1688.0,646.8 1689.1,647.4 1546.3,730.4" fill="#9c9c9c" />
<polygon points="1548.2,731.4 1690.8,648.5 1691.8,649.2 1549.4,732.0" fill="#9c9c9c" />
<polygon points="1551.4,733.0 1693.5,650.3 1694.5,650.9 1552.5,733.7" fill="#9c9c9c" />
<polygon points="1554.5,734.7 1696.2,652.0 1697.2,652.7 1555.7,735.3" fill="#9c9c9c" />
<polygon points="1557.6,736.3 1698.9,653.8 1699.9,654.5 1558.8,736.9" fill="#9c9c9c" />
<polygon points="1560.7,737.9 1701.6,655.6 1702.7,656.2 1561.9,738.5" fill="#9c9c9c" />
<polygon points="1563.8,739.5 1704.4,657.3 1705.4,658.0 1565.0,740.1" fill="#9c9c9c" />
<polygon points="1567.0,741.1 1707.1,659.1 1708.1,659.7 1568.1,741.7" fill="#9c9c9c" />
<polygon points="1570.1,742.7 1709.8,660.8 1710.8,661.5 1571.3,743.3" fill="#9c9c9c" />
<polygon points="1573.2,744.4 1712.5,662.6 1713.5,663.3 1574.4,745.0" fill="#9c9c9c" />
</g>
<polygon points="1571.0,743.4 1692.4,671.7 1696.8,674.2 1575.4,745.5" fill="#fafafa" />
<polygon points="1575.4,745.5 1696.8,674.2 1697.8,675.6 1576.4,747.1" fill="#c8c8c8" />
<polygon points="1506.7,708.9 1575.4,744.4 1576.4,747.4 1506.7,712.2" fill="#dedede" />
<polygon points="1555.8,698.2 1568.4,698.2 1567.0,708.9 1577.3,712.2 1583.8,714.5 1595.9,712.7 1600.6,714.5 1600.6,719.2 1592.2,721.2 1570.7,722.2 1557.2,720.9" fill="#fbfbfb" />
<polygon points="1555.8,700.6 1564.4,701.5 1567.0,708.9 1570.3,713.8 1557.2,720.7" fill="#989898" />
<polygon points="1555.8,698.2 1568.4,698.2 1568.4,700.6 1555.8,700.7" fill="#d6d6d6" />
<polygon points="1583.0,715.0 1595.9,712.9 1600.6,714.7 1600.4,719.0 1592.2,718.8 1583.8,717.9" fill="#cfcfcf" />
<polygon points="1598.2,674.0 1640.2,673.5 1640.8,677.1 1637.8,681.0 1632.2,684.7 1641.6,689.4 1642.5,695.9 1633.2,695.2 1623.9,693.3 1610.8,695.0 1600.6,696.1" fill="#fbfbfb" />
<polygon points="1598.2,677.3 1631.8,677.3 1610.8,688.4 1609.1,695.0 1600.6,696.1" fill="#989898" />
<polygon points="1598.2,674.0 1640.2,673.5 1640.6,676.9 1598.2,677.5" fill="#d6d6d6" />
<g clip-path="url(#c10)">
<polygon points="1610.8,688.4 1631.8,677.7 1633.2,683.8 1623.9,690.8 1610.8,695.0" fill="#f2f2f2" />
<polygon points="1610.8,689.1 1633.2,677.5 1633.2,678.5 1610.8,690.0" fill="#9c9c9c" />
<polygon points="1610.8,691.3 1633.2,679.8 1633.2,680.8 1610.8,692.2" fill="#9c9c9c" />
<polygon points="1610.8,693.4 1633.2,682.1 1633.2,683.1 1610.8,694.3" fill="#9c9c9c" />
</g>
<polygon points="1622.0,689.8 1632.2,684.7 1641.1,689.2 1642.0,695.7 1638.8,690.3 1631.8,687.1 1623.9,692.2" fill="#c4c4c4" />
<polygon points="1506.7,711.7 1541.0,729.3 1541.0,732.3 1506.7,749.9" fill="#8e8e8e" />
<polygon points="1453.0,674.9 1454.1,673.4 1505.9,699.9 1507.0,701.1 1507.0,750.1 1453.0,720.5" fill="#dcdcdc" />
<g clip-path="url(#c11)">
<polygon points="1460.1,678.2 1497.7,697.3 1498.0,702.7 1499.7,711.3 1500.5,717.5 1499.7,728.3 1500.5,739.7 1495.7,737.4 1481.4,727.8 1458.7,716.1 1458.1,707.3 1459.2,705.6 1458.4,694.2 1460.1,693.0 1460.7,688.5" fill="url(#g25)" />
<polygon points="1460.1,678.2 1475.8,685.9 1460.7,692.5" fill="#8c8c8c" />
<polygon points="1458.6,704.7 1484.9,690.8 1485.7,691.6 1458.7,705.8" fill="#6e6e6e" />
<polygon points="1458.6,715.2 1497.7,696.4 1497.8,697.6 1458.7,716.4" fill="#2c2c2c" />
<polygon points="1458.7,716.4 1497.8,697.6 1499.7,711.3 1500.5,717.5 1481.4,727.8" fill="#4c4c4c" />
<polygon points="1481.4,726.9 1500.0,716.9 1500.2,717.8 1482.0,728.1" fill="#7a7a7a" />
<polygon points="1482.0,728.1 1500.2,717.8 1499.7,728.3 1500.5,739.7 1495.7,737.4" fill="#5c5c5c" />
</g>
<path d="M1454.1,673.7 L1457.2,678.8 L1457.8,687.3 L1459.0,691.9 L1458.4,694.7" fill="none" stroke="#4a4a4a" stroke-width="0.5" stroke-linejoin="round"/>
<path d="M1500.5,705.0 L1501.1,710.1 L1500.0,712.4" fill="none" stroke="#4a4a4a" stroke-width="0.5" stroke-linejoin="round"/>
<polygon points="1650.5,493.0 1651.6,491.8 1773.5,430.1 1775.7,431.6 1776.0,498.6 1652.4,562.2" fill="url(#g26)" />
<polygon points="1650.5,493.0 1651.6,491.8 1773.5,430.1 1775.7,431.6 1775.9,440.3 1653.6,501.5" fill="url(#g27)" />
<polygon points="1650.5,493.0 1651.6,491.8 1653.8,493.4 1654.4,560.9 1652.4,562.2" fill="#e6e6e6" />
<polygon points="1668.0,507.7 1669.5,500.7 1673.4,494.9 1678.0,497.6 1678.4,504.2 1674.2,506.2" fill="#fbfbfb" />
<polygon points="1655.9,524.8 1683.1,502.7 1688.9,506.6 1672.6,536.5" fill="#fbfbfb" />
<ellipse cx="1672.2" cy="512.8" rx="10.5" ry="9" fill="#b6b6b6" transform="rotate(-25 1672.2 512.8)"/>
<ellipse cx="1717.3" cy="492.2" rx="8.2" ry="14" fill="#fbfbfb" transform="rotate(22 1717.3 492.2)"/>
<polygon points="1712.6,505.4 1717.6,505.0 1723.9,496.1 1726.2,488.3 1722.3,498.4 1716.9,503.9" fill="#d0d0d0" />
<polygon points="1756.5,460.4 1758.0,454.2 1761.1,449.9 1765.8,452.6 1766.2,458.4 1761.9,460.4" fill="#fbfbfb" />
<polygon points="1744.8,477.5 1770.4,457.7 1775.7,461.1 1775.7,463.9 1760.0,490.7" fill="#fbfbfb" />
<ellipse cx="1760.0" cy="467.4" rx="10.5" ry="9" fill="#b4b4b4" transform="rotate(-25 1760.0 467.4)"/>
<polygon points="1656.9,567.4 1778.0,500.8 1817.8,523.6 1694.6,593.6" fill="url(#g28)" />
<polygon points="1651.3,562.9 1776.4,498.7 1778.0,500.8 1656.9,567.4" fill="#b2b2b2" />
<polygon points="1654.2,565.4 1777.2,499.9 1778.0,500.8 1656.9,567.4" fill="#d0d0d0" />
<polygon points="1694.6,593.6 1817.8,523.6 1818.2,529.7 1698.0,599.7" fill="#c6c6c6" />
<polygon points="1696.6,597.4 1818.2,527.7 1818.2,529.7 1698.0,599.7" fill="#e4e4e4" />
<polygon points="1698.6,599.7 1818.4,529.7 1869.6,562.4 1752.2,631.3" fill="url(#g29)" />
<polygon points="1746.1,628.1 1864.2,557.1 1869.8,562.6 1752.2,631.5" fill="#f3f3f3" />
<polygon points="1698.6,599.7 1752.2,631.3 1748.4,631.8 1697.3,601.7" fill="#ededed" />
<ellipse cx="1789.4" cy="576.1" rx="14.2" ry="8.4" fill="#e4e4e4" transform="rotate(-5 1789.4 576.1)"/>
<ellipse cx="1789.0" cy="577.2" rx="13.2" ry="7.2" fill="#b2b2b2" transform="rotate(-5 1789.0 577.2)"/>
<polygon points="1728.9,592.2 1761.0,592.2 1762.2,595.9 1762.2,611.8 1729.3,612.0" fill="#c2c2c2" />
<polygon points="1728.9,592.2 1761.0,592.2 1762.0,595.9 1728.9,595.1" fill="#fbfbfb" />
<polygon points="1728.9,595.1 1737.3,595.5 1735.4,603.9 1736.5,611.8 1729.3,612.0" fill="#b2b2b2" />
<ellipse cx="1745.2" cy="603.9" rx="9.2" ry="7.2" fill="#d6d6d6"/>
<polygon points="1736.8,608.5 1739.6,611.9 1736.8,612.2" fill="#fbfbfb" />
<polygon points="1751.2,609.6 1757.8,603.9 1762.2,607.6 1762.2,611.9 1752.2,611.9" fill="#fbfbfb" />
<polygon points="1815.1,542.8 1845.3,542.4 1847.7,547.0 1848.3,561.2 1816.5,560.2" fill="#c2c2c2" />
<polygon points="1815.1,542.8 1845.3,542.4 1847.4,547.0 1815.5,546.1" fill="#fbfbfb" />
<polygon points="1815.5,546.1 1823.9,547.0 1822.1,555.4 1823.2,560.2 1816.5,560.2" fill="#b2b2b2" />
<ellipse cx="1830.9" cy="555.9" rx="8.2" ry="6.4" fill="#d6d6d6"/>
<polygon points="1837.0,560.2 1842.6,556.2 1848.3,557.3 1848.3,561.2 1837.9,561.6" fill="#fbfbfb" />
<polygon points="1697.0,600.3 1730.7,620.0 1692.4,643.0 1692.4,633.2 1697.0,633.2" fill="#aaaaaa" />
<polygon points="1696.8,597.2 1753.7,631.5 1752.7,633.7 1696.8,600.5" fill="#eeeeee" />
<polygon points="1656.4,569.8 1657.4,568.6 1690.5,588.1 1696.9,592.4 1696.9,633.4 1692.4,633.7 1692.4,643.1 1690.0,642.0 1690.0,638.9 1683.8,635.3 1690.0,632.1 1690.0,626.9 1678.1,623.6 1669.3,628.6 1660.5,624.1 1660.5,610.0 1656.4,607.9" fill="#efefef" />
<g clip-path="url(#c12)">
<polygon points="1662.9,573.9 1689.8,589.4 1690.0,602.6 1692.6,605.7 1693.1,613.0 1691.8,616.1 1692.6,624.4 1678.1,615.6 1664.7,608.8 1660.0,604.7 1659.2,603.1 1659.5,586.6 1662.1,585.5 1662.9,584.0" fill="url(#g30)" />
<polygon points="1662.9,573.9 1674.8,580.8 1662.9,584.8" fill="#8a8a8a" />
<polygon points="1659.8,593.0 1680.2,583.5 1681.2,584.4 1659.9,594.3" fill="#7c7c7c" />
<polygon points="1660.0,602.4 1689.8,588.1 1689.9,589.3 1660.1,603.7" fill="#262626" />
<polygon points="1660.1,603.7 1689.9,589.3 1690.0,602.6 1692.6,605.7 1678.1,615.6 1664.7,608.8" fill="#464646" />
<polygon points="1678.1,614.8 1692.4,606.2 1692.6,607.2 1678.6,615.8" fill="#7c7c7c" />
<polygon points="1678.6,615.8 1692.6,607.2 1693.1,613.0 1691.8,616.1 1692.6,624.4" fill="#5a5a5a" />
</g>
<g clip-path="url(#c13)">
<polygon points="1662.3,614.3 1678.1,623.3 1669.3,627.6 1662.3,623.4" fill="#424242" />
<polygon points="1662.3,620.7 1671.9,620.2 1678.1,623.3 1669.3,627.6 1662.3,623.4" fill="#565656" />
<polygon points="1668.8,626.2 1677.3,622.3 1678.2,623.3 1669.3,627.7" fill="#a4a4a4" />
</g>
<polygon points="1683.9,635.3 1690.0,632.2 1690.0,638.7" fill="#565656" />
</g>
<g id="labels">
<line x1="231.4" y1="1305.3" x2="1828.5" y2="474.2" stroke="#3b4043" stroke-width="1.5"/>
<line x1="340.1" y1="1359.3" x2="1862.9" y2="495.6" stroke="#3b4043" stroke-width="1.5"/>
<line x1="782.3" y1="1025.1" x2="854.7" y2="1060.1" stroke="#3b4043" stroke-width="0.8"/>
<polygon points="776.9,1022.5 784.3,1029.1 786.6,1024.2" fill="#3b4043"/>
<polygon points="860.1,1062.7 850.4,1061.0 852.7,1056.1" fill="#3b4043"/>
<text x="120.5" y="526.0" font-size="40.1" textLength="672.2" lengthAdjust="spacingAndGlyphs">Встраиваемый со скрытым фланцем</text>
<line x1="119.5" y1="543.2" x2="1506" y2="543.2" stroke="#4a5053" stroke-width="1.5"/>
<circle cx="1506" cy="543.2" r="5.8" fill="#474d50"/>
<text x="120.5" y="878.8" font-size="40.1" textLength="696.0" lengthAdjust="spacingAndGlyphs">Встраиваемый с накладным фланцем</text>
<line x1="119.5" y1="902.5" x2="935.5" y2="902.5" stroke="#4a5053" stroke-width="1.5"/>
<circle cx="935.5" cy="902.5" r="5.8" fill="#474d50"/>
<text x="121.0" y="1090.8" font-size="40.1" textLength="201.6" lengthAdjust="spacingAndGlyphs">Накладной</text>
<line x1="119.5" y1="1110.8" x2="520.5" y2="1110.8" stroke="#4a5053" stroke-width="1.5"/>
<circle cx="520.5" cy="1110.8" r="5.8" fill="#474d50"/>
<text x="673.3" y="1014.6" font-size="36.6" textLength="93" lengthAdjust="spacingAndGlyphs">15 мм</text>
<circle cx="393.6" cy="1439.1" r="19.8" fill="#dcdcdc" stroke="#555a5c" stroke-width="1"/>
<text x="428.9" y="1451.7" font-size="41.2" style="stroke-width:0.7px" textLength="126" lengthAdjust="spacingAndGlyphs">023716</text>
<circle cx="393.6" cy="1496.8" r="19.8" fill="#000" stroke="#555a5c" stroke-width="1"/>
<text x="428.9" y="1509.4" font-size="41.2" style="stroke-width:0.7px" textLength="126" lengthAdjust="spacingAndGlyphs">037110</text>
<circle cx="393.6" cy="1554.3" r="19.8" fill="#fff" stroke="#555a5c" stroke-width="1"/>
<text x="428.9" y="1566.9" font-size="41.2" style="stroke-width:0.7px" textLength="126" lengthAdjust="spacingAndGlyphs">037111</text>
<circle cx="684.3" cy="1325.5" r="19.8" fill="#dcdcdc" stroke="#555a5c" stroke-width="1"/>
<text x="719.6" y="1338.1" font-size="41.2" style="stroke-width:0.7px" textLength="126" lengthAdjust="spacingAndGlyphs">023718</text>
<circle cx="684.3" cy="1383.2" r="19.8" fill="#000" stroke="#555a5c" stroke-width="1"/>
<text x="719.6" y="1395.8" font-size="41.2" style="stroke-width:0.7px" textLength="126" lengthAdjust="spacingAndGlyphs">032997</text>
<circle cx="684.3" cy="1440.7" r="19.8" fill="#fff" stroke="#555a5c" stroke-width="1"/>
<text x="719.6" y="1453.3" font-size="41.2" style="stroke-width:0.7px" textLength="126" lengthAdjust="spacingAndGlyphs">037108</text>
<circle cx="930" cy="1116.3" r="19.8" fill="#dcdcdc" stroke="#555a5c" stroke-width="1"/>
<text x="965.3" y="1128.9" font-size="41.2" style="stroke-width:0.7px" textLength="126" lengthAdjust="spacingAndGlyphs">023717</text>
<circle cx="1146.8" cy="1054.3" r="19.8" fill="#dcdcdc" stroke="#555a5c" stroke-width="1"/>
<text x="1182.1" y="1066.9" font-size="41.2" style="stroke-width:0.7px" textLength="126" lengthAdjust="spacingAndGlyphs">023719</text>
<circle cx="1146.8" cy="1110.3" r="19.8" fill="#000" stroke="#555a5c" stroke-width="1"/>
<text x="1182.1" y="1122.9" font-size="41.2" style="stroke-width:0.7px" textLength="126" lengthAdjust="spacingAndGlyphs">037114</text>
<circle cx="1360.5" cy="996.3" r="19.8" fill="#dcdcdc" stroke="#555a5c" stroke-width="1"/>
<text x="1395.8" y="1008.9" font-size="41.2" style="stroke-width:0.7px" textLength="126" lengthAdjust="spacingAndGlyphs">034977</text>
<circle cx="1567.2" cy="788" r="19.8" fill="#dcdcdc" stroke="#555a5c" stroke-width="1"/>
<text x="1602.5" y="800.6" font-size="41.2" style="stroke-width:0.7px" textLength="126" lengthAdjust="spacingAndGlyphs">049012</text>
<circle cx="1757.8" cy="685.6" r="19.8" fill="#dcdcdc" stroke="#555a5c" stroke-width="1"/>
<text x="1793.1" y="698.2" font-size="41.2" style="stroke-width:0.7px" textLength="126" lengthAdjust="spacingAndGlyphs">034979</text>
</g>
</svg>
</body></html>
